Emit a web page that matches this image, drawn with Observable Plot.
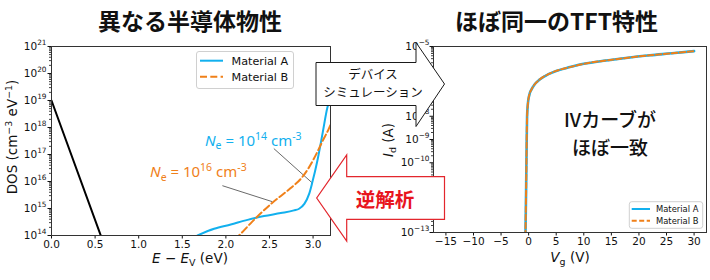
<!DOCTYPE html>
<html>
<head>
<meta charset="utf-8">
<script src="https://cdn.jsdelivr.net/npm/d3@7"></script>
<script src="https://cdn.jsdelivr.net/npm/@observablehq/plot@0.6"></script>
<style>
  html, body { margin: 0; padding: 0; background: #fff; }
  #fig { position: relative; width: 710px; height: 280px; overflow: hidden; }
  .panel { position: absolute; top: 0; }
  #overlay { position: absolute; left: 0; top: 0; }
</style>
</head>
<body>
<div id="fig">
  <div class="panel" id="left" style="left:0px"></div>
  <div class="panel" id="right" style="left:380px"></div>
</div>
<script>
// ---- Series ----
const seriesNames = ["Material A", "Material B"];
const seriesColors = ["#12b0ee", "#f08019"];

// Density of states (cm^-3 eV^-1) against E - E_V (eV)
const valenceE = [0, 0.565];
const valenceDos = [1e19, 1e14];
const matAE = [1.674, 1.865, 2.056, 2.248, 2.438, 2.63, 2.78, 2.84, 2.90, 2.955, 2.99, 3.05, 3.11, 3.165, 3.2];
const matADos = [1e14, 1.78e14, 2.57e14, 3.8e14, 5.25e14, 6.76e14, 8.5e14, 9.8e14, 1.48e15, 3.47e15, 8.9e15, 6.0e16, 6.3e17, 5.6e18, 1.26e19];
const matBE = [2.10, 2.15, 2.30, 2.53, 2.74, 2.86, 2.95, 3.05, 3.11, 3.18, 3.20];
const matBDos = [7.1e13, 1e14, 3.2e14, 1.6e15, 5.6e15, 1.26e16, 3.2e16, 1.26e17, 3.2e17, 8.9e17, 1.26e18];

// Transfer curve Id (A) against Vg (V); both materials give the same curve
const ivVg = [-0.6, -0.45, -0.35, -0.28, -0.15, 0.1, 0.5, 1, 2, 3.5, 5, 7.5, 10, 14, 18, 22, 26, 30];
const ivIdA = [3.2e-14, 1e-11, 1e-9, 1e-8, 3.2e-8, 7.9e-8, 1.4e-7, 2.2e-7, 3.8e-7, 6.3e-7, 8.9e-7, 1.3e-6, 1.8e-6, 2.5e-6, 3.3e-6, 4.2e-6, 5.1e-6, 6.3e-6];
const ivIdB = [3.2e-14, 1e-11, 1e-9, 1e-8, 3.2e-8, 7.9e-8, 1.4e-7, 2.2e-7, 3.8e-7, 6.3e-7, 8.9e-7, 1.3e-6, 1.8e-6, 2.5e-6, 3.3e-6, 4.2e-6, 5.1e-6, 6.3e-6];

// Annotation callouts on the DOS panel: label anchor and pointer ends
const calloutColor = ["#12b0ee", "#f08019"];
const calloutExp = ["14", "16"];
const calloutLabelE = [2.32, 1.69];
const calloutLabelDos = [3.3e17, 2.2e16];
const pointerE1 = [2.55, 1.96];
const pointerDos1 = [1.66e17, 7e15];
const pointerE2 = [2.99, 2.53];
const pointerDos2 = [8.9e15, 1.8e15];

// ---- Ticks ----
const dosXTicks = [0, 0.5, 1, 1.5, 2, 2.5, 3];
const dosXLabels = ["0.0", "0.5", "1.0", "1.5", "2.0", "2.5", "3.0"];
const dosYTicks = [1e14, 1e15, 1e16, 1e17, 1e18, 1e19, 1e20, 1e21];
const dosYExp = ["14", "15", "16", "17", "18", "19", "20", "21"];
const ivXTicks = [-15, -10, -5, 0, 5, 10, 15, 20, 25, 30];
const ivXLabels = ["−15", "−10", "−5", "0", "5", "10", "15", "20", "25", "30"];
const ivYTicks = [1e-13, 1e-12, 1e-11, 1e-10, 1e-9, 1e-8, 1e-7, 1e-6, 1e-5];
// decades sitting under the two arrows carry no label
const ivYExp = ["−13", "", "", "−10", "−9", "−8", "", "", "−5"];

const TICK_FONT = "DejaVu Sans, sans-serif";
const JP_FONT = "Noto Sans CJK JP, sans-serif";
const INK = "#111";

// minor log ticks (2..9 × 10^n) within a domain
function minorTicks(lo, hi) {
  return d3.scaleLog().domain([lo, hi]).ticks()
    .filter(t => Math.abs(Math.log10(t) - Math.round(Math.log10(t))) > 1e-6);
}
const lookup = (ticks, labels) => d => labels[ticks.findIndex(t => Math.abs(t - d) <= Math.abs(d) * 1e-9)] ?? "";

// text with italic / sub / superscript runs
function rich(parent, x, y, parts, fs, opts = {}) {
  const t = parent.append("text")
    .attr("x", x).attr("y", y)
    .attr("font-size", fs)
    .attr("text-anchor", opts.anchor || "middle")
    .attr("font-family", opts.font || TICK_FONT)
    .attr("fill", opts.fill || INK);
  if (opts.transform) t.attr("transform", opts.transform);
  let shift = 0;
  for (const p of parts) {
    const s = t.append("tspan").text(p.t);
    const target = p.sup ? -(opts.supRise || 0.4) * fs : p.sub ? 0.25 * fs : 0;
    s.attr("dy", target - shift);
    shift = target;
    if (p.sup || p.sub) s.attr("font-size", fs * 0.7);
    if (p.it) s.attr("font-style", "italic");
  }
  return t;
}

// power-of-ten labels for a log axis
function decadeLabels(svg, plot, ticks, exps, xRight) {
  const sy = plot.scale("y");
  ticks.forEach((t, i) => {
    if (!exps[i]) return;
    rich(svg, xRight, sy.apply(t) + 3.8, [{t: "10"}, {t: exps[i], sup: true}], 10.5, {anchor: "end", supRise: 0.5});
  });
}

function legend(svg, box, rowY, lineX, textX, fs, widths, dashes) {
  const g = svg.append("g");
  g.append("rect")
    .attr("x", box[0]).attr("y", box[1]).attr("width", box[2]).attr("height", box[3])
    .attr("rx", 2.5).attr("fill", "#fff").attr("fill-opacity", 0.85)
    .attr("stroke", "#d0d0d0").attr("stroke-width", 1);
  seriesNames.forEach((name, i) => {
    g.append("line")
      .attr("x1", lineX[0]).attr("x2", lineX[1]).attr("y1", rowY[i]).attr("y2", rowY[i])
      .attr("stroke", seriesColors[i]).attr("stroke-width", widths[i])
      .attr("stroke-dasharray", dashes[i]);
    g.append("text")
      .attr("x", textX).attr("y", rowY[i]).attr("dy", "0.35em")
      .attr("text-anchor", "start")
      .attr("font-size", fs).attr("font-family", TICK_FONT).attr("fill", INK)
      .text(name);
  });
}

// ---------------- Left panel: DOS ----------------
const dosA = matAE.map((e, i) => ({e, dos: matADos[i]}));
const dosB = matBE.map((e, i) => ({e, dos: matBDos[i]}));
const dosV = valenceE.map((e, i) => ({e, dos: valenceDos[i]}));
const pointers = pointerE1.map((e, i) => ({x1: e, y1: pointerDos1[i], x2: pointerE2[i], y2: pointerDos2[i]}));

const left = Plot.plot({
  width: 340, height: 280,
  marginLeft: 51, marginRight: 10, marginTop: 46, marginBottom: 45,
  style: {fontFamily: TICK_FONT, fontSize: "10.5px", color: INK, background: "transparent", overflow: "visible"},
  x: {domain: [0, 3.2]},
  y: {type: "log", domain: [1e14, 1e21]},
  marks: [
    Plot.axisY(minorTicks(1e14, 1e21), {tickSize: 2, tickFormat: () => "", label: null, strokeWidth: 0.8}),
    Plot.axisY(dosYTicks, {tickSize: 3.5, tickFormat: () => "", label: null}),
    Plot.axisX(dosXTicks, {tickSize: 3.5, tickPadding: 2, tickFormat: lookup(dosXTicks, dosXLabels), label: null}),
    Plot.line(dosV, {x: "e", y: "dos", stroke: "#000", strokeWidth: 2, clip: true}),
    Plot.link(pointers, {x1: "x1", y1: "y1", x2: "x2", y2: "y2", stroke: "#6a6a6a", strokeWidth: 1}),
    Plot.line(dosA, {x: "e", y: "dos", stroke: seriesColors[0], strokeWidth: 2, curve: "monotone-x", clip: true}),
    Plot.line(dosB, {x: "e", y: "dos", stroke: seriesColors[1], strokeWidth: 2, strokeDasharray: "7,3.3", curve: "monotone-x", clip: true}),
    Plot.frame({stroke: "#333", strokeWidth: 1})
  ]
});
document.getElementById("left").appendChild(left);
{
  const svg = d3.select(left);
  const sx = left.scale("x"), sy = left.scale("y");
  decadeLabels(svg, left, dosYTicks, dosYExp, 46.5);
  rich(svg, 0, 0, [{t: "DOS (cm"}, {t: "−3", sup: true}, {t: " eV"}, {t: "−1", sup: true}, {t: ")"}], 13.5,
       {transform: "translate(17,137) rotate(-90)"});
  rich(svg, 190, 263, [{t: "E", it: true}, {t: " − "}, {t: "E", it: true}, {t: "V", sub: true}, {t: " (eV)"}], 13.5);
  legend(svg, [196.5, 51.5, 97, 37], [60.7, 76.7], [200, 223], 231.5, 11.2, [2, 2], [null, "7,3.3"]);
  calloutExp.forEach((ex, i) => {
    rich(svg, sx.apply(calloutLabelE[i]), sy.apply(calloutLabelDos[i]) + 5.5,
      [{t: "N", it: true}, {t: "e", sub: true}, {t: " = 10"}, {t: ex, sup: true}, {t: " cm"}, {t: "-3", sup: true}],
      15, {fill: calloutColor[i], font: "Noto Sans, sans-serif"});
  });
}

// ---------------- Right panel: transfer curve ----------------
const ivA = ivVg.map((v, i) => ({v, id: ivIdA[i]}));
const ivB = ivVg.map((v, i) => ({v, id: ivIdB[i]}));

const right = Plot.plot({
  width: 330, height: 280,
  marginLeft: 53, marginRight: 4, marginTop: 46, marginBottom: 48,
  style: {fontFamily: TICK_FONT, fontSize: "10.5px", color: INK, background: "transparent", overflow: "visible"},
  x: {domain: [-17.25, 32.25]},
  y: {type: "log", domain: [1e-13, 1e-5]},
  marks: [
    Plot.axisY(minorTicks(1e-13, 1e-5), {tickSize: 2, tickFormat: () => "", label: null, strokeWidth: 0.8}),
    Plot.axisY(ivYTicks, {tickSize: 3.5, tickFormat: () => "", label: null}),
    Plot.axisX(ivXTicks, {tickSize: 3.5, tickPadding: 2, tickFormat: lookup(ivXTicks, ivXLabels), label: null}),
    Plot.line(ivA, {x: "v", y: "id", stroke: seriesColors[0], strokeWidth: 2.6, curve: "monotone-x", clip: true}),
    Plot.line(ivB, {x: "v", y: "id", stroke: seriesColors[1], strokeWidth: 2, strokeDasharray: "5.5,2.5", curve: "monotone-x", clip: true}),
    Plot.frame({stroke: "#333", strokeWidth: 1})
  ]
});
document.getElementById("right").appendChild(right);
{
  const svg = d3.select(right);
  decadeLabels(svg, right, ivYTicks, ivYExp, 49.5);
  rich(svg, 0, 0, [{t: "I", it: true}, {t: "d", sub: true}, {t: " (A)"}], 13.5,
       {transform: "translate(12.5,140) rotate(-90)"});
  rich(svg, 190, 262, [{t: "V", it: true}, {t: "g", sub: true}, {t: " (V)"}], 13.5);
  legend(svg, [249.3, 201.7, 73.4, 26.6], [209, 220.7], [251.7, 270], 276, 8.4, [2, 2], [null, "5,2.5"]);
}

// ---------------- Titles, arrows and notes ----------------
const ov = d3.select("#fig").append("svg").attr("id", "overlay").attr("width", 710).attr("height", 280);
ov.append("text").attr("x", 190).attr("y", 30).attr("text-anchor", "middle")
  .attr("font-family", JP_FONT).attr("font-weight", 700).attr("font-size", 23).attr("fill", INK)
  .text("異なる半導体物性");
ov.append("text").attr("x", 556.5).attr("y", 30).attr("text-anchor", "middle")
  .attr("font-family", JP_FONT).attr("font-weight", 700).attr("font-size", 23).attr("fill", INK)
  .text("ほぼ同一のTFT特性");

// forward: simulation arrow
ov.append("path")
  .attr("d", "M316,62.5H416V42.5L444.5,84L416,126.5V105.5H316Z")
  .attr("fill", "#fff").attr("stroke", "#1a1a1a").attr("stroke-width", 1);
ov.append("text").attr("x", 373).attr("y", 78.5).attr("text-anchor", "middle")
  .attr("font-family", JP_FONT).attr("font-size", 12.5).attr("fill", INK).text("デバイス");
ov.append("text").attr("x", 373).attr("y", 97).attr("text-anchor", "middle")
  .attr("font-family", JP_FONT).attr("font-size", 12.5).attr("fill", INK).text("シミュレーション");

// backward: inverse analysis arrow
ov.append("path")
  .attr("d", "M444.5,176.7V219.3H346.7V241L316.7,198L346.7,155V176.7Z")
  .attr("fill", "#fff").attr("stroke", "#e3262d").attr("stroke-width", 1.2);
ov.append("text").attr("x", 385).attr("y", 207).attr("text-anchor", "middle")
  .attr("font-family", JP_FONT).attr("font-weight", 700).attr("font-size", 19.5).attr("fill", "#e8151d").text("逆解析");

ov.append("text").attr("x", 610).attr("y", 127).attr("text-anchor", "middle")
  .attr("font-family", JP_FONT).attr("font-weight", 500).attr("font-size", 19).attr("fill", INK).text("IVカーブが");
ov.append("text").attr("x", 610).attr("y", 155).attr("text-anchor", "middle")
  .attr("font-family", JP_FONT).attr("font-weight", 500).attr("font-size", 19).attr("fill", INK).text("ほぼ一致");
</script>
</body>
</html>
